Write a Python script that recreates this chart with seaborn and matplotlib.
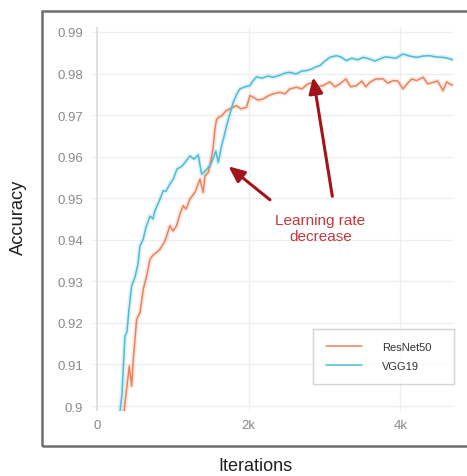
import numpy as np
import pandas as pd
import matplotlib
matplotlib.use("Agg")
import matplotlib.pyplot as plt
import seaborn as sns
from matplotlib.patches import Rectangle

vgg_x = [303, 329, 369, 395, 422, 457, 501, 540, 567, 610, 646, 699, 738, 764, 804, 830, 874, 909,
         962, 1006, 1054, 1120, 1173, 1226, 1278, 1335, 1380, 1423, 1489, 1529, 1568, 1599, 1643,
         1674, 1709, 1753, 1797, 1845, 1885, 1951, 2017, 2056, 2105, 2175, 2254, 2324, 2412, 2478,
         2544, 2623, 2702, 2764, 2834, 2886, 2939, 3005, 3071, 3159, 3216, 3291, 3361, 3440, 3510,
         3598, 3664, 3730, 3796, 3862, 3941, 4037, 4125, 4214, 4297, 4389, 4468, 4564, 4626, 4696]
vgg_y = [0.8987, 0.9028, 0.9169, 0.9178, 0.9233, 0.9289, 0.9310, 0.9341, 0.9385, 0.9402, 0.9430,
         0.9457, 0.9450, 0.9470, 0.9486, 0.9498, 0.9518, 0.9517, 0.9534, 0.9546, 0.9570, 0.9577,
         0.9589, 0.9602, 0.9594, 0.9604, 0.9558, 0.9565, 0.9578, 0.9594, 0.9613, 0.9586, 0.9626,
         0.9647, 0.9674, 0.9703, 0.9731, 0.9751, 0.9763, 0.9768, 0.9771, 0.9782, 0.9792, 0.9789,
         0.9794, 0.9791, 0.9796, 0.9801, 0.9803, 0.9799, 0.9806, 0.9807, 0.9811, 0.9816, 0.9819,
         0.9830, 0.9839, 0.9843, 0.9840, 0.9831, 0.9837, 0.9833, 0.9839, 0.9835, 0.9830, 0.9835,
         0.9840, 0.9839, 0.9837, 0.9847, 0.9842, 0.9839, 0.9842, 0.9843, 0.9840, 0.9839, 0.9837,
         0.9833]

res_x = [356, 382, 426, 457, 478, 523, 567, 610, 655, 699, 738, 787, 830, 896, 962, 1002, 1050,
         1094, 1137, 1173, 1226, 1292, 1358, 1401, 1423, 1467, 1489, 1529, 1555, 1578, 1608, 1643,
         1700, 1753, 1841, 1898, 1973, 2017, 2060, 2122, 2192, 2254, 2320, 2412, 2478, 2544, 2632,
         2702, 2781, 2851, 2913, 2983, 3071, 3137, 3203, 3282, 3348, 3423, 3493, 3545, 3598, 3677,
         3773, 3835, 3905, 3967, 4037, 4099, 4152, 4214, 4301, 4363, 4433, 4494, 4564, 4613, 4652,
         4692]
res_y = [0.8987, 0.9028, 0.9096, 0.9048, 0.9111, 0.9209, 0.9225, 0.9281, 0.9313, 0.9353, 0.9363,
         0.9370, 0.9377, 0.9397, 0.9434, 0.9421, 0.9434, 0.9462, 0.9482, 0.9474, 0.9498, 0.9514,
         0.9546, 0.9514, 0.9554, 0.9562, 0.9578, 0.9618, 0.9666, 0.9690, 0.9695, 0.9698, 0.9710,
         0.9715, 0.9723, 0.9715, 0.9719, 0.9747, 0.9743, 0.9736, 0.9739, 0.9746, 0.9751, 0.9755,
         0.9751, 0.9763, 0.9767, 0.9763, 0.9775, 0.9779, 0.9768, 0.9771, 0.9780, 0.9768, 0.9775,
         0.9787, 0.9768, 0.9771, 0.9782, 0.9768, 0.9779, 0.9787, 0.9787, 0.9777, 0.9783, 0.9782,
         0.9763, 0.9777, 0.9787, 0.9783, 0.9791, 0.9775, 0.9779, 0.9782, 0.9759, 0.9780, 0.9775,
         0.9772]

series_names = ["ResNet50", "VGG19"]
y_ticks = [0.9, 0.91, 0.92, 0.93, 0.94, 0.95, 0.96, 0.97, 0.98, 0.99]
y_tick_labels = ["0.9", "0.91", "0.92", "0.93", "0.94", "0.95", "0.96", "0.97", "0.98", "0.99"]
x_ticks = [0, 2000, 4000]
x_tick_labels = ["0", "2k", "4k"]

df = pd.concat([
    pd.DataFrame({"Iterations": res_x, "Accuracy": res_y, "Model": series_names[0]}),
    pd.DataFrame({"Iterations": vgg_x, "Accuracy": vgg_y, "Model": series_names[1]}),
])

colors = {"ResNet50": "#e9835d", "VGG19": "#50bbd4"}

sns.set_theme(style="white")
plt.rcParams['font.family'] = ['Liberation Sans', 'DejaVu Sans']

W, H = 467, 477
fig = plt.figure(figsize=(W / 100, H / 100), dpi=100)
ax = fig.add_axes([92 / W, 1 - 412 / H, (453 - 92) / W, (412 - 28) / H])

# faint halo lines behind the main curves
for name in series_names:
    sub = df[df["Model"] == name]
    ax.plot(sub["Iterations"], sub["Accuracy"], color=colors[name], lw=3.5, alpha=0.18, zorder=2)

sns.lineplot(data=df, x="Iterations", y="Accuracy", hue="Model", palette=colors,
             linewidth=1.1, ax=ax, estimator=None, sort=False, zorder=3)

ax.set_xlim(-66, 4696)
ax.set_ylim(0.8988, 0.9912)
ax.set_yticks(y_ticks)
ax.set_yticklabels(y_tick_labels)
ax.set_xticks(x_ticks)
ax.set_xticklabels(x_tick_labels)
ax.tick_params(axis="both", length=0, labelsize=9.5, labelcolor="#8a8a8a")
ax.tick_params(axis="y", pad=6.5)
ax.tick_params(axis="x", pad=6)
ax.grid(True, color="#eeeeee", lw=0.9)
ax.axvline(0, color="#dddddd", lw=1.2, zorder=1)
for s in ax.spines.values():
    s.set_visible(False)
ax.set_xlabel("")
ax.set_ylabel("")

leg = ax.legend(loc="upper left",
                bbox_to_anchor=((313 - 92) / 361, (412 - 330) / 384, (454 - 313) / 361, 0.0),
                mode="expand",
                fontsize=8, frameon=True, fancybox=False, edgecolor="#c8c8c8",
                handlelength=3.2, handletextpad=1.8, borderpad=1.2, labelspacing=0.75,
                borderaxespad=0, title=None)
leg.get_frame().set_linewidth(1.0)
for t in leg.get_texts():
    t.set_color("#333333")

# annotations
ax.annotate("", xy=(1705, 0.9581), xytext=(2310, 0.9492),
            arrowprops=dict(arrowstyle="-|>,head_length=0.8,head_width=0.35", color="#a3141a", lw=2.2))
ax.annotate("", xy=(2845, 0.9798), xytext=(3110, 0.9498),
            arrowprops=dict(arrowstyle="-|>,head_length=0.8,head_width=0.35", color="#a3141a", lw=2.2))
ax.text(2945, 0.9428, "Learning rate\ndecrease", ha="center", va="center", fontsize=11,
        color="#c0393e", linespacing=1.15)

fig.text(18.5 / W, 1 - 217 / H, "Accuracy", rotation=90, ha="center", va="center", fontsize=13.2, color="#222222")
fig.text(255 / W, 1 - 467 / H, "Iterations", ha="center", va="center", fontsize=13, color="#222222")

fig.patches.append(Rectangle((42 / W, 1 - 447 / H), 1.2, (447 - 12) / H, transform=fig.transFigure,
                             fill=False, edgecolor="#6e6e6e", lw=1.8, clip_on=False))

fig.savefig("out.png", dpi=100)
